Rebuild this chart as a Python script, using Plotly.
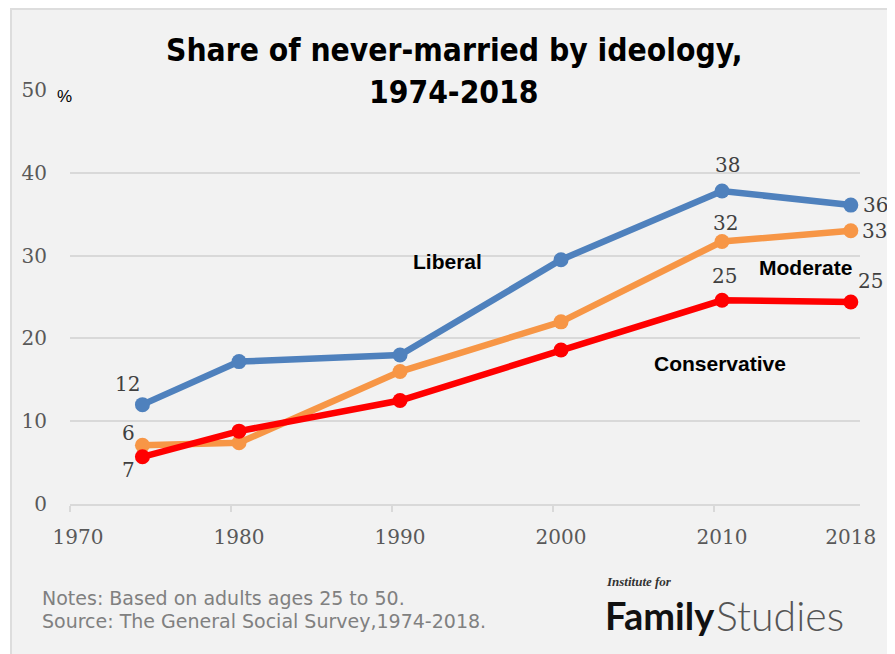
import plotly.graph_objects as go

# ---------------- data ----------------
years = [1974, 1980, 1990, 2000, 2010, 2018]
liberal = [12.0, 17.2, 18.0, 29.5, 37.8, 36.1]
moderate = [7.1, 7.4, 16.0, 22.0, 31.7, 33.0]
conservative = [5.7, 8.8, 12.5, 18.6, 24.6, 24.4]

liberal_labels = ["12", "", "", "", "38", "36"]
moderate_labels = ["6", "", "", "", "32", "33"]
conservative_labels = ["7", "", "", "", "25", "25"]

x_ticks = [1970, 1980, 1990, 2000, 2010, 2018]
y_ticks = [0, 10, 20, 30, 40, 50]

title_line1 = "Share of never-married by ideology,"
title_line2 = "1974-2018"
note1 = "Notes: Based on adults ages 25 to 50."
note2 = "Source: The General Social Survey,1974-2018."

# ---------------- layout constants ----------------
OFF = 8                      # page body margin
W, H = 895 - OFF, 654 - OFF
L, R, T, B = 62, 35, 82, 150
PW, PH = W - L - R, H - T - B


def xp(rx):
    """reference page x pixel -> paper coordinate"""
    return (rx - OFF - L) / PW


def yp(ry):
    """reference page y pixel -> paper coordinate"""
    return (H - B - (ry - OFF)) / PH


BLUE, ORANGE, RED = "#4f81bd", "#f79646", "#ff0000"
SERIF = "DejaVu Serif, Liberation Serif, serif"
SANS = "Liberation Sans, Arial, sans-serif"
NARROW = "Liberation Sans Narrow, DejaVu Sans Condensed, Arial Narrow, sans-serif"

fig = go.Figure()
for name, vals, col in [("Liberal", liberal, BLUE),
                        ("Moderate", moderate, ORANGE),
                        ("Conservative", conservative, RED)]:
    fig.add_trace(go.Scatter(
        x=years, y=vals, mode="lines+markers", name=name,
        line=dict(color=col, width=6.5),
        marker=dict(color=col, size=15),
        showlegend=False, hoverinfo="x+y+name"))

ann = []
lab_offsets = {
    "lib": [(-15, 21), None, None, None, (5, 26), (25, 0)],
    "mod": [(-14, 12), None, None, None, (3, 19), (24, 0)],
    "con": [(-14, -13), None, None, None, (2, 24), (20, 21)],
}
for key, vals, labs in [("lib", liberal, liberal_labels),
                        ("mod", moderate, moderate_labels),
                        ("con", conservative, conservative_labels)]:
    for i, (xv, yv, t) in enumerate(zip(years, vals, labs)):
        if not t:
            continue
        dx, dy = lab_offsets[key][i]
        ann.append(dict(x=xv, y=yv, xref="x", yref="y", text=t, showarrow=False,
                        xshift=dx, yshift=dy, xanchor="center", yanchor="middle",
                        font=dict(family=SERIF, size=20, color="#404040")))

for txt, px, py in [("Liberal", 447, 262), ("Moderate", 805, 267), ("Conservative", 720, 363)]:
    ann.append(dict(x=xp(px), y=yp(py), xref="paper", yref="paper", text=txt,
                    showarrow=False, xanchor="center", yanchor="middle",
                    font=dict(family=SANS, size=21, color="#000000", weight="bold")))

for txt, py in [(title_line1, 50), (title_line2, 92)]:
    ann.append(dict(x=xp(454), y=yp(py), xref="paper", yref="paper", text="<b>%s</b>" % txt,
                    showarrow=False, xanchor="center", yanchor="middle",
                    font=dict(family=NARROW, size=31.5, color="#000000")))

ann.append(dict(x=xp(64.5), y=yp(97), xref="paper", yref="paper", text="%",
                showarrow=False, xanchor="center", yanchor="middle",
                font=dict(family=SANS, size=17, color="#000000")))

for txt, py in [(note1, 598), (note2, 621)]:
    ann.append(dict(x=xp(40), y=yp(py), xref="paper", yref="paper", text=txt,
                    showarrow=False, xanchor="left", yanchor="middle",
                    font=dict(family="DejaVu Sans, Verdana, sans-serif", size=19, color="#808080")))

ann.append(dict(x=xp(604), y=yp(581), xref="paper", yref="paper", text="<b><i>Institute for</i></b>",
                showarrow=False, xanchor="left", yanchor="middle",
                font=dict(family="Liberation Serif, serif", size=13, color="#333333")))
ann.append(dict(x=xp(603), y=yp(615), xref="paper", yref="paper", text="<b>Family</b>",
                showarrow=False, xanchor="left", yanchor="middle",
                font=dict(family="Lato, Open Sans, sans-serif", size=38, color="#111111")))
ann.append(dict(x=xp(714), y=yp(615), xref="paper", yref="paper", text="Studies",
                showarrow=False, xanchor="left", yanchor="middle",
                font=dict(family="Lato, Open Sans, sans-serif", size=41, color="#555555", weight=300)))

shapes = [
    dict(type="rect", xref="paper", yref="paper", x0=xp(0), x1=xp(10), y0=yp(H + 20), y1=yp(0),
         fillcolor="white", line=dict(width=0), layer="below"),
    dict(type="line", xref="paper", yref="paper", x0=xp(11), x1=xp(11), y0=yp(9), y1=yp(H + 20),
         line=dict(color="#dddddd", width=2)),
    dict(type="line", xref="paper", yref="paper", x0=xp(10), x1=xp(W + 20), y0=yp(9), y1=yp(9),
         line=dict(color="#dddddd", width=2)),
]

fig.update_layout(
    width=W, height=H,
    margin=dict(l=L, r=R, t=T, b=B),
    paper_bgcolor="#f2f2f2", plot_bgcolor="#f2f2f2",
    annotations=ann, shapes=shapes,
    xaxis=dict(range=[1969.5, 2018.57], tickvals=x_ticks, ticktext=[str(v) for v in x_ticks],
               showgrid=False, zeroline=False, showline=True, linecolor="#d9d9d9", linewidth=2,
               ticks="", ticklabelstandoff=14,
               tickfont=dict(family=SERIF, size=20, color="#595959"),
               minor=dict(tickvals=[1969.5, 1979.5, 1989.5, 1999.5, 2009.5], ticks="outside",
                          ticklen=6, tickcolor="#d9d9d9", tickwidth=2, showgrid=False)),
    yaxis=dict(range=[0, 50], tickvals=y_ticks, showgrid=True, gridcolor="#d9d9d9", gridwidth=2,
               zeroline=False, showline=False, ticks="", ticklabelstandoff=22,
               tickfont=dict(family=SERIF, size=20, color="#595959")),
)

fig.write_html("out.html")
